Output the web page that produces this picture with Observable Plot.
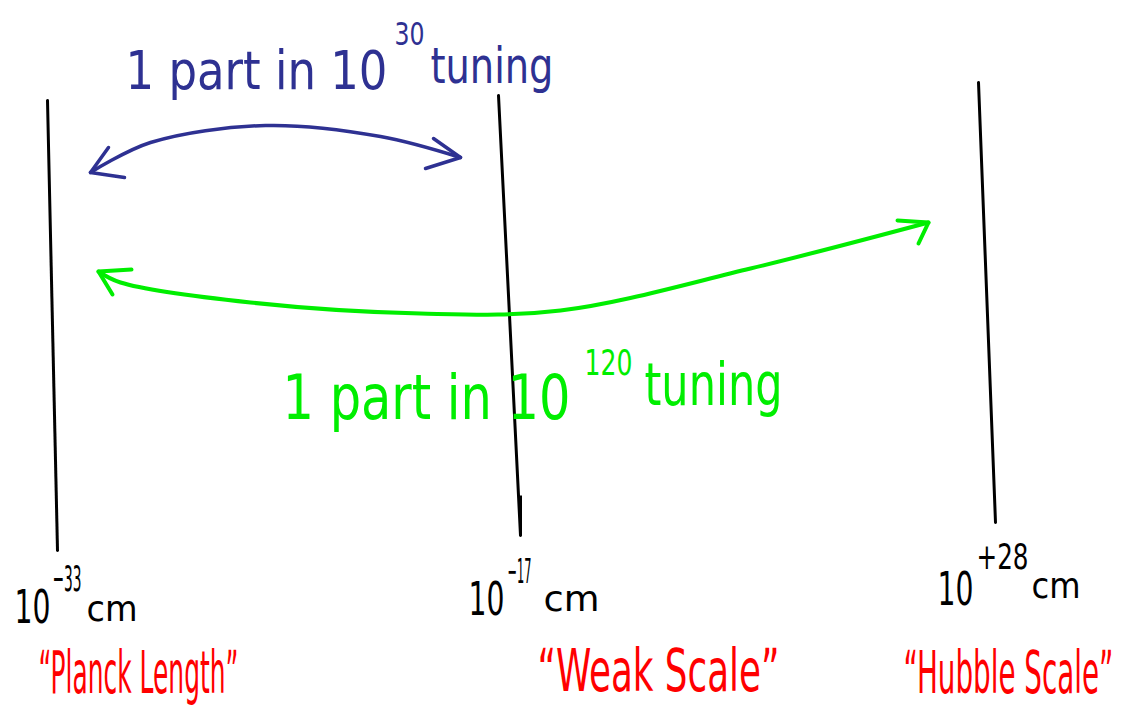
<!DOCTYPE html>
<html><head><meta charset="utf-8">
<script src="https://cdn.jsdelivr.net/npm/d3@7"></script>
<script src="https://cdn.jsdelivr.net/npm/@observablehq/plot@0.6"></script>
<style>body{margin:0;background:#fff}</style>
</head><body><div id="chart"></div>
<script>
// Data
const exponents = ["−33", "−17", "+28"];
const scaleNames = ["“Planck Length”", "“Weak Scale”", "“Hubble Scale”"];
const tuningExp = ["30", "120"];

// Geometry (diagram units = pixels)
const scaleLines = [
  {id: 0, x1: 47, y1: 100, x2: 57, y2: 550},
  {id: 1, x1: 498, y1: 95, x2: 520, y2: 535},
  {id: 2, x1: 978, y1: 82, x2: 995, y2: 522}
];
const blueArc = [[90,172],[150,142],[265,125],[380,136],[460,157]];
const blueHeads = [
  [[108,147],[90,172],[124,177]],
  [[433,138],[460,157],[425,168]]
];
const greenArc = [[98,271],[120,282],[250,302],[420,313],[560,310],[750,268],[928,222]];
const greenHeads = [
  [[131,269],[98,271],[112,294]],
  [[897,220],[928,222],[918,243]]
];

const BLUE = "#2e3192", GREEN = "#00ee00", RED = "#ff0000";
const FONT = "'DejaVu Sans Condensed','Liberation Sans Narrow','DejaVu Sans',sans-serif";

const labels = [
  // blue tuning text
  {t: "1 part in 10", x: 125, y: 88, s: 54, w: 262, c: BLUE},
  {t: tuningExp[0], x: 394, y: 44, s: 32, w: 30, c: BLUE},
  {t: "tuning", x: 430, y: 82, s: 50, w: 123, c: BLUE},
  // green tuning text
  {t: "1 part in 10", x: 282, y: 418, s: 62, w: 288, c: GREEN},
  {t: tuningExp[1], x: 584, y: 374, s: 36, w: 48, c: GREEN},
  {t: "tuning", x: 644, y: 404, s: 58, w: 138, c: GREEN},
  // scale labels
  {t: "10", x: 14, y: 622, s: 46, w: 36, c: "#000"},
  {t: exponents[0], x: 52, y: 590, s: 36, w: 29, c: "#000"},
  {t: "cm", x: 86, y: 620, s: 36, w: 51, c: "#000"},
  {t: "10", x: 468, y: 614, s: 46, w: 36, c: "#000"},
  {t: exponents[1], x: 507, y: 582, s: 34, w: 24, c: "#000"},
  {t: "cm", x: 543, y: 610, s: 36, w: 56, c: "#000"},
  {t: "10", x: 937, y: 604, s: 46, w: 36, c: "#000"},
  {t: exponents[2], x: 976, y: 568, s: 36, w: 52, c: "#000"},
  {t: "cm", x: 1031, y: 597, s: 36, w: 49, c: "#000"},
  // red names
  {t: scaleNames[0], x: 38, y: 692, s: 58, w: 200, c: RED},
  {t: scaleNames[1], x: 537, y: 690, s: 58, w: 242, c: RED},
  {t: scaleNames[2], x: 903, y: 692, s: 58, w: 210, c: RED}
];

const toPts = (arr, g) => arr.map(([x, y]) => ({x, y, g}));
const blueHeadPts = blueHeads.flatMap((h, i) => toPts(h, i));
const greenHeadPts = greenHeads.flatMap((h, i) => toPts(h, i));

const chart = Plot.plot({
  width: 1132, height: 713,
  margin: 0,
  x: {domain: [0, 1132], range: [0, 1132], axis: null},
  y: {domain: [0, 713], range: [0, 713], axis: null},
  style: {background: "#fff", fontFamily: FONT},
  marks: [
    Plot.link(scaleLines, {x1: "x1", y1: "y1", x2: "x2", y2: "y2", stroke: "#000", strokeWidth: 3, strokeLinecap: "round"}),
    Plot.link([scaleLines[1]], {x1: d => d.x2, y1: d => d.y2 - 40, x2: d => d.x2, y2: "y2", stroke: "#000", strokeWidth: 3}),
    Plot.line(toPts(blueArc, 0), {x: "x", y: "y", curve: "catmull-rom", stroke: BLUE, strokeWidth: 3.5}),
    Plot.line(blueHeadPts, {x: "x", y: "y", z: "g", stroke: BLUE, strokeWidth: 3.5, strokeLinejoin: "round", strokeLinecap: "round"}),
    Plot.line(toPts(greenArc, 0), {x: "x", y: "y", curve: "catmull-rom", stroke: GREEN, strokeWidth: 4, strokeLinecap: "round"}),
    Plot.line(greenHeadPts, {x: "x", y: "y", z: "g", stroke: GREEN, strokeWidth: 4, strokeLinejoin: "round", strokeLinecap: "round"}),
    Plot.text(labels, {x: "x", y: "y", text: "t", fill: "c", fontSize: "s", textAnchor: "start", lineAnchor: "bottom", className: "lbl"})
  ]
});

document.getElementById("chart").append(chart);
// squeeze each handwritten-style label horizontally to its measured width
d3.select(chart).selectAll(".lbl text").each(function(_, i) {
  const natural = this.getComputedTextLength();
  const sx = labels[i].w / natural;
  const t = this.getAttribute("transform") || "";
  this.setAttribute("transform", `${t} scale(${sx},1)`);
});
</script>
</body></html>
